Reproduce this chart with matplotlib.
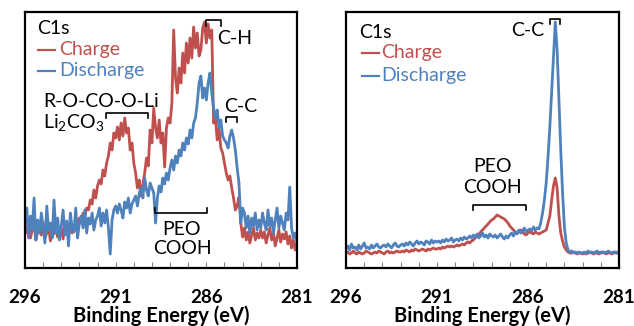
import numpy as np
import matplotlib
matplotlib.use('Agg')
import matplotlib.pyplot as plt
from matplotlib.ticker import MultipleLocator

plt.rcParams['font.family'] = ['Lato', 'DejaVu Sans']
plt.rcParams['mathtext.default'] = 'regular'

RED = '#C0504D'
BLUE = '#4F81BD'

# binding energy grid, 296 -> 281 eV in 0.1 eV steps
energy = np.round(np.linspace(296.0, 281.0, 151), 1)

# left panel (intensity, arbitrary units)
left_charge = [
    41, 35, 48, 30, 38, 44, 28, 36, 40, 33, 46, 30, 35, 42, 27, 38, 34, 45, 31, 37,
    40, 29, 43, 36, 32, 47, 35, 40, 38, 44, 50,
    45, 55, 52, 60, 58, 68, 64, 78, 70, 82, 88, 84, 98, 92, 105, 112, 125, 118, 135, 130,
    141, 128, 145, 132, 150, 135, 140, 118, 125, 105, 95, 80, 88, 72, 84, 95, 110, 102, 138, 125,
    160, 140, 130, 148, 125, 135, 101, 140, 150, 145, 165, 238, 190, 175, 200, 185, 215, 195, 225, 205,
    230, 210, 241, 220, 235, 212, 218, 240, 246, 225, 244, 230, 238, 145, 150, 128, 140, 120, 115, 105,
    95, 88, 92, 80, 70, 58, 62, 71, 45, 31, 40, 28, 36, 25, 33, 40, 28, 35, 30, 38,
    30, 36, 25, 33, 40, 28, 35, 22, 30, 38, 26, 34, 29, 36, 24, 32, 20, 28, 18, 25,
]
left_discharge = [
    45, 60, 30, 52, 38, 70, 28, 48, 35, 55, 40, 25, 62, 38, 45, 30, 68, 35, 50, 28,
    42, 58, 33, 47, 22, 55, 40, 36, 60, 30, 45,
    52, 40, 58, 35, 50, 44, 55, 38, 48, 52, 60, 42, 55, 45, 58, 40, 14, 48, 58, 62,
    55, 64, 58, 50, 66, 60, 70, 55, 64, 68, 72, 62, 75, 80, 70, 90, 78, 72, 85, 80,
    75, 45, 70, 82, 76, 90, 84, 95, 88, 100, 108, 98, 112, 105, 118, 112, 125, 118, 130, 124,
    138, 130, 145, 150, 165, 185, 192, 170, 180, 168, 185, 195, 175, 160, 150, 158, 140, 148, 132, 128,
    125, 120, 132, 138, 130, 118, 100, 85, 45, 60, 55, 40, 52, 35, 50, 42, 55, 38, 48, 40,
    55, 45, 38, 58, 42, 50, 35, 48, 60, 40, 52, 45, 38, 55, 48, 81, 40, 30, 35, 25,
]

# right panel
right_charge = [
    15, 16, 14, 15, 17, 15, 14, 16, 15, 14, 15, 17, 16, 15, 14, 15, 16, 15, 17, 16,
    15, 14, 16, 17, 15, 16, 15, 16, 17, 16, 16,
    17, 16, 18, 17, 16, 18, 17, 19, 18, 17, 18, 19, 18, 17, 19, 18, 19, 20, 19, 19,
    20, 19, 21, 20, 21, 22, 21, 22, 21, 22, 23, 22, 23, 24, 23, 25, 26, 25, 27, 28,
    30, 32, 34, 36, 38, 40, 42, 44, 46, 48, 49, 51, 53, 52, 51, 50, 49, 47, 45, 42,
    40, 38, 36, 35, 37, 38, 36, 34, 33, 35, 36, 35, 34, 36, 35, 34, 35, 36, 37, 38,
    45, 52, 68, 82, 90, 80, 52, 35, 27, 21, 18, 16, 15, 15, 16, 15, 14, 15, 15, 14,
    15, 14, 15, 16, 15, 14, 15, 15, 14, 15, 16, 15, 14, 15, 15, 14, 15, 16, 15, 14,
]
right_discharge = [
    19, 22, 18, 24, 20, 21, 18, 23, 19, 22, 25, 20, 21, 19, 23, 20, 22, 24, 21, 20,
    22, 23, 21, 24, 22, 20, 23, 25, 22, 21, 23,
    24, 22, 25, 23, 26, 24, 22, 25, 27, 24, 26, 25, 23, 27, 26, 24, 28, 25, 27, 26,
    27, 25, 28, 26, 29, 27, 28, 30, 26, 28, 29, 27, 30, 28, 31, 29, 30, 32, 30, 33,
    31, 34, 30, 32, 35, 31, 33, 30, 34, 32, 31, 33, 30, 32, 34, 31, 29, 32, 30, 33,
    35, 32, 36, 34, 38, 35, 37, 40, 36, 38, 39, 37, 41, 38, 40, 39, 45, 55, 68, 85,
    111, 141, 175, 211, 246, 218, 168, 118, 75, 41, 25, 18, 16, 17, 15, 16, 15, 16, 15, 15,
    16, 15, 17, 15, 16, 15, 16, 17, 15, 16, 15, 16, 15, 17, 16, 15, 16, 15, 16, 15,
]

tick_labels = ['296', '291', '286', '281']

fig = plt.figure(figsize=(6.34, 3.26), dpi=100)
ax1 = fig.add_axes([25/634, 58/326, 272/634, 256/326])
ax2 = fig.add_axes([346/634, 58/326, 273/634, 256/326])

for ax, ch, dis in [(ax1, left_charge, left_discharge), (ax2, right_charge, right_discharge)]:
    ax.plot(energy, ch, color=RED, linewidth=2.0, label='Charge')
    ax.plot(energy, dis, color=BLUE, linewidth=2.0, label='Discharge')
    ax.set_xlim(296, 281)
    ax.set_ylim(0, 256)
    ax.set_yticks([])
    ax.xaxis.set_minor_locator(MultipleLocator(1))
    ax.set_xticks([296, 291, 286, 281], tick_labels)
    ax.tick_params(axis='x', which='both', direction='in', length=4, width=0.8,
                   color='#888888', pad=15, labelsize=13.5)
    for lbl in ax.get_xticklabels():
        lbl.set_fontweight('bold')
    for sp in ax.spines.values():
        sp.set_linewidth(1.6)
        sp.set_color('black')
    ax.set_xlabel('Binding Energy (eV)', fontsize=14.5, fontweight='bold', labelpad=0)

fs = 14

def bracket(ax, x0, x1, y, leg):
    ax.plot([x0, x0, x1, x1], [y + leg, y, y, y + leg], color='black', linewidth=1.2)

# left panel annotations
ax1.text(0.044, 0.934, 'C1s', transform=ax1.transAxes, fontsize=fs, va='center')
ax1.plot([0.048, 0.110], [0.852, 0.852], transform=ax1.transAxes, color=RED, linewidth=1.6)
ax1.text(0.125, 0.852, 'Charge', transform=ax1.transAxes, fontsize=fs, va='center', color=RED)
ax1.plot([0.048, 0.110], [0.770, 0.770], transform=ax1.transAxes, color=BLUE, linewidth=1.6)
ax1.text(0.125, 0.770, 'Discharge', transform=ax1.transAxes, fontsize=fs, va='center', color=BLUE)
ax1.text(0.066, 0.652, 'R-O-CO-O-Li', transform=ax1.transAxes, fontsize=fs, va='center')
ax1.text(0.066, 0.568, 'Li$_2$CO$_3$', transform=ax1.transAxes, fontsize=fs, va='center')
bracket(ax1, 291.53, 289.2, 155, -5)
ax1.text(0.706, 0.898, 'C-H', transform=ax1.transAxes, fontsize=fs, va='center')
bracket(ax1, 286.0, 285.2, 248, -6)
ax1.text(0.732, 0.629, 'C-C', transform=ax1.transAxes, fontsize=fs, va='center')
bracket(ax1, 284.9, 284.3, 151, -5)
bracket(ax1, 288.83, 285.96, 55, 5)
ax1.text(0.577, 0.152, 'PEO', transform=ax1.transAxes, fontsize=fs, va='center', ha='center')
ax1.text(0.577, 0.078, 'COOH', transform=ax1.transAxes, fontsize=fs, va='center', ha='center')

# right panel annotations
ax2.text(0.048, 0.918, 'C1s', transform=ax2.transAxes, fontsize=fs, va='center')
ax2.plot([0.059, 0.121], [0.840, 0.840], transform=ax2.transAxes, color=RED, linewidth=1.6)
ax2.text(0.128, 0.840, 'Charge', transform=ax2.transAxes, fontsize=fs, va='center', color=RED)
ax2.plot([0.059, 0.121], [0.750, 0.750], transform=ax2.transAxes, color=BLUE, linewidth=1.6)
ax2.text(0.128, 0.750, 'Discharge', transform=ax2.transAxes, fontsize=fs, va='center', color=BLUE)
ax2.text(0.725, 0.926, 'C-C', transform=ax2.transAxes, fontsize=fs, va='center', ha='right')
bracket(ax2, 284.79, 284.24, 249, -5)
ax2.text(0.535, 0.395, 'PEO', transform=ax2.transAxes, fontsize=fs, va='center', ha='center')
ax2.text(0.535, 0.316, 'COOH', transform=ax2.transAxes, fontsize=fs, va='center', ha='center')
bracket(ax2, 289.02, 286.11, 63, -5)

plt.savefig('out.png', dpi=100)
